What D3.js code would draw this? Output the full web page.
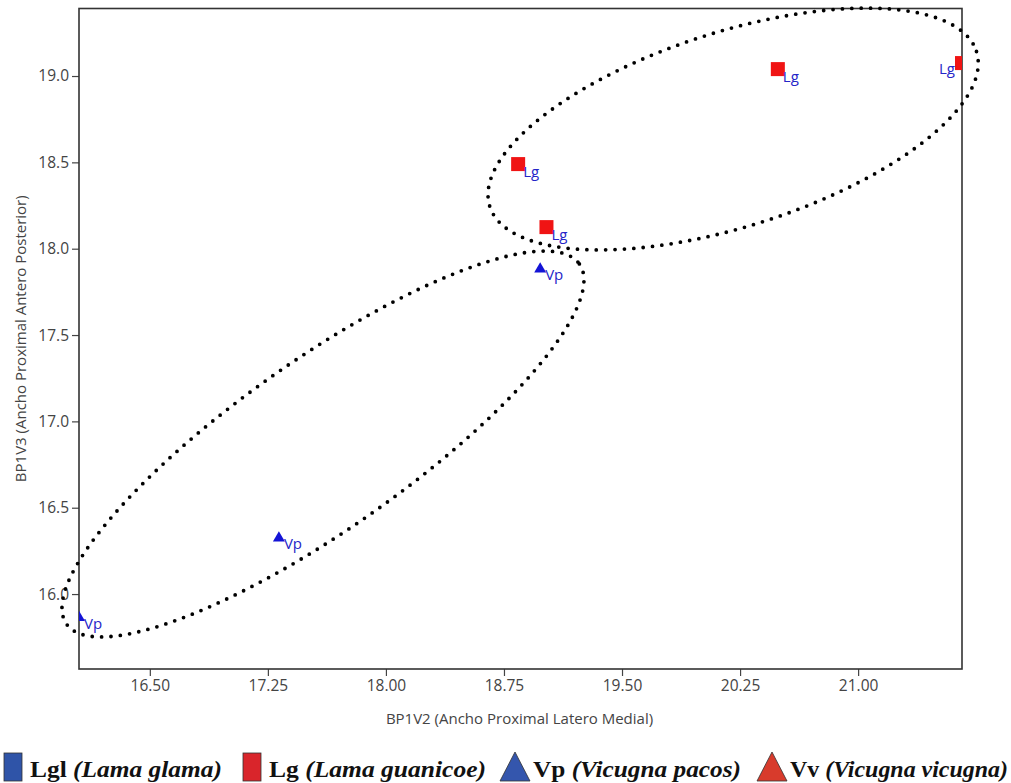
<!DOCTYPE html>
<html>
<head>
<meta charset="utf-8">
<script src="https://cdn.jsdelivr.net/npm/d3@7"></script>
<style>
  html, body { margin: 0; padding: 0; background: #fff; }
  svg { display: block; }
</style>
</head>
<body>
<svg id="chart" width="1011" height="783"></svg>
<script>
// ---------------- DATA ----------------
const lgX = [18.84, 19.02, 20.49, 21.66];
const lgY = [18.49, 18.125, 19.04, 19.075];
const lgLabel = ["Lg", "Lg", "Lg", "Lg"];

const vpX = [18.98, 17.32, 16.05];
const vpY = [17.882, 16.324, 15.864];
const vpLabel = ["Vp", "Vp", "Vp"];

const xTicks = [16.50, 17.25, 18.00, 18.75, 19.50, 20.25, 21.00];
const yTicks = [16.0, 16.5, 17.0, 17.5, 18.0, 18.5, 19.0];
const yDomain = [15.566, 19.391];

// dotted grouping ellipses (center and two conjugate semi-axis vectors, data units)
const ellCx = [20.206, 17.600];
const ellCy = [18.693, 16.869];
const ellAx = [1.546, 1.629];
const ellAy = [0.449, 1.043];
const ellBx = [0.188, 0.310];
const ellBy = [-0.537, -0.401];

const legendCode = ["Lgl", "Lg", "Vp", "Vv"];
const legendName = ["(Lama glama)", "(Lama guanicoe)", "(Vicugna pacos)", "(Vicugna vicugna)"];
const legendShape = ["square", "square", "triangle", "triangle"];
const legendColor = ["#2f54a8", "#d9252b", "#3456ad", "#d83b2c"];

const xTitle = "BP1V2 (Ancho Proximal Latero Medial)";
const yTitle = "BP1V3 (Ancho Proximal Antero Posterior)";

// ---------------- LAYOUT ----------------
const plot = { left: 79, right: 962, top: 8.5, bottom: 669 };
const svg = d3.select("#chart");

const xAll = lgX.concat(vpX);
const x = d3.scaleLinear().domain(d3.extent(xAll)).range([plot.left, plot.right]);
const y = d3.scaleLinear().domain(yDomain).range([plot.bottom, plot.top]);

svg.append("defs").append("clipPath").attr("id", "clip")
  .append("rect")
  .attr("x", plot.left).attr("y", plot.top)
  .attr("width", plot.right - plot.left).attr("height", plot.bottom - plot.top);

// axes
const tickFont = "'Open Sans', 'Noto Sans', sans-serif";
const xAxis = svg.append("g").attr("transform", `translate(0,${plot.bottom})`)
  .call(d3.axisBottom(x).tickValues(xTicks).tickFormat(d3.format(".2f")).tickSize(7).tickPadding(4));
const yAxis = svg.append("g").attr("transform", `translate(${plot.left},0)`)
  .call(d3.axisLeft(y).tickValues(yTicks).tickFormat(d3.format(".1f")).tickSize(7).tickPadding(3));
[xAxis, yAxis].forEach(g => {
  g.select(".domain").remove();
  g.selectAll(".tick line").attr("stroke", "#444").attr("stroke-width", 1.2);
  g.selectAll(".tick text").attr("fill", "#444").style("font-family", tickFont).style("font-size", "15.5px");
});

// frame
svg.append("rect")
  .attr("x", plot.left).attr("y", plot.top)
  .attr("width", plot.right - plot.left).attr("height", plot.bottom - plot.top)
  .attr("fill", "none").attr("stroke", "#333").attr("stroke-width", 1.6);

// axis titles
svg.append("text")
  .attr("x", (plot.left + plot.right) / 2 - 1).attr("y", 724)
  .attr("text-anchor", "middle")
  .style("font-family", tickFont).style("font-size", "15px").attr("fill", "#444")
  .text(xTitle);
svg.append("text")
  .attr("transform", `translate(26,${(plot.top + plot.bottom) / 2}) rotate(-90)`)
  .attr("text-anchor", "middle")
  .style("font-family", tickFont).style("font-size", "15px").attr("fill", "#444")
  .text(yTitle);

// markers (clipped to plot area)
const marks = svg.append("g").attr("clip-path", "url(#clip)");
const lgData = lgX.map((v, i) => ({ x: v, y: lgY[i], label: lgLabel[i] }));
const vpData = vpX.map((v, i) => ({ x: v, y: vpY[i], label: vpLabel[i] }));

const sq = 14;
marks.selectAll("rect.lg").data(lgData).join("rect")
  .attr("class", "lg")
  .attr("x", d => x(d.x) - sq / 2).attr("y", d => y(d.y) - sq / 2)
  .attr("width", sq).attr("height", sq)
  .attr("fill", "#f01414");

const tri = d3.symbol().type(d3.symbolTriangle).size(62);
marks.selectAll("path.vp").data(vpData).join("path")
  .attr("class", "vp")
  .attr("transform", d => `translate(${x(d.x)},${y(d.y)})`)
  .attr("d", tri)
  .attr("fill", "#1414d6");

// point labels
const labFont = "'Open Sans', 'Noto Sans', sans-serif";
svg.selectAll("text.lgl").data(lgData).join("text")
  .attr("class", "lgl")
  .attr("x", d => x(d.x) > plot.right - 10 ? x(d.x) - 7 : x(d.x) + 5)
  .attr("y", d => y(d.y) + (x(d.x) > plot.right - 10 ? 11 : 12.5))
  .attr("text-anchor", d => x(d.x) > plot.right - 10 ? "end" : "start")
  .style("font-family", labFont).style("font-size", "15px")
  .attr("fill", "#2525c8")
  .text(d => d.label);
svg.selectAll("text.vpl").data(vpData).join("text")
  .attr("class", "vpl")
  .attr("x", d => x(d.x) + 5)
  .attr("y", d => y(d.y) + 11)
  .style("font-family", labFont).style("font-size", "15px")
  .attr("fill", "#2525c8")
  .text(d => d.label);

// dotted ellipses
const line = d3.line().curve(d3.curveLinearClosed);
ellCx.forEach((cx, i) => {
  const pts = d3.range(0, 360, 1).map(deg => {
    const t = deg * Math.PI / 180;
    const dx = cx + ellAx[i] * Math.cos(t) + ellBx[i] * Math.sin(t);
    const dy = ellCy[i] + ellAy[i] * Math.cos(t) + ellBy[i] * Math.sin(t);
    return [x(dx), y(dy)];
  });
  svg.append("path")
    .attr("d", line(pts))
    .attr("fill", "none")
    .attr("stroke", "#000")
    .attr("stroke-width", 3.8)
    .attr("stroke-linecap", "round")
    .attr("stroke-dasharray", "0 9.4");
});

// legend
const legX = [4, 243, 500, 757];
const legTextEnd = [222, 486, 741, 1008];
const legBaseline = 777;
const lg = svg.append("g");
legendCode.forEach((code, i) => {
  let symW;
  if (legendShape[i] === "square") {
    symW = 18;
    lg.append("rect").attr("x", legX[i]).attr("y", 753).attr("width", symW).attr("height", 28)
      .attr("fill", legendColor[i]).attr("stroke", "#333").attr("stroke-width", 0.8);
  } else {
    symW = 30;
    const x0 = legX[i];
    lg.append("path")
      .attr("d", `M${x0},781 L${x0 + symW / 2},752 L${x0 + symW},781 Z`)
      .attr("fill", legendColor[i]).attr("stroke", "#333").attr("stroke-width", 0.8);
  }
  const tx = legX[i] + symW + (legendShape[i] === "square" ? 8 : 3);
  const t = lg.append("text")
    .attr("x", tx).attr("y", legBaseline)
    .attr("textLength", legTextEnd[i] - tx)
    .attr("lengthAdjust", "spacingAndGlyphs")
    .style("font-family", "'Liberation Serif', 'Times New Roman', serif")
    .style("font-size", "23px").style("font-weight", "bold").attr("fill", "#111");
  t.append("tspan").text(code + " ");
  t.append("tspan").style("font-style", "italic").text(legendName[i]);
});
</script>
</body>
</html>
